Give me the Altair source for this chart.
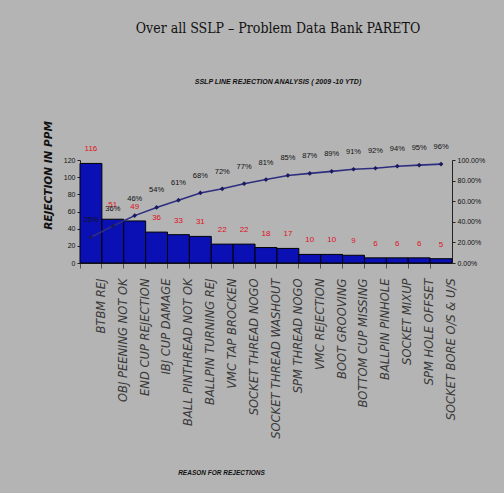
import altair as alt
import pandas as pd

categories = [
    "BTBM REJ", "OBJ PEENING NOT OK", "END CUP REJECTION", "IBJ CUP DAMAGE",
    "BALL PINTHREAD NOT OK", "BALLPIN TURNING REJ", "VMC TAP BROCKEN",
    "SOCKET THREAD NOGO", "SOCKET THREAD WASHOUT", "SPM THREAD NOGO",
    "VMC REJECTION", "BOOT GROOVING", "BOTTOM CUP MISSING", "BALLPIN PINHOLE",
    "SOCKET MIXUP", "SPM HOLE OFFSET", "SOCKET BORE O/S & U/S",
]
ppm = [116, 51, 49, 36, 33, 31, 22, 22, 18, 17, 10, 10, 9, 6, 6, 6, 5]
cum_pct = [0.25, 0.36, 0.46, 0.54, 0.61, 0.68, 0.72, 0.77, 0.81, 0.85,
           0.87, 0.89, 0.91, 0.92, 0.94, 0.95, 0.96]
ppm_ticks = [0, 20, 40, 60, 80, 100, 120]
pct_ticks = [0, 0.2, 0.4, 0.6, 0.8, 1.0]

df = pd.DataFrame({"reason": categories, "ppm": ppm, "cum": cum_pct})

BG = "#b4b4b4"
NARROW = "Liberation Sans Narrow, Liberation Sans"
x = alt.X(
    "reason:N", sort=categories, title="REASON FOR REJECTIONS",
    scale=alt.Scale(paddingInner=0, paddingOuter=0),
    axis=alt.Axis(
        bandPosition=0, labelOffset=10.9, labelAngle=270, labelAlign="right",
        labelBaseline="middle", labelPadding=10, labelFont="DejaVu Sans",
        labelFontStyle="italic", labelFontSize=11.5, labelColor="#3a3a3a",
        labelLimit=300, labelOverlap=False, tickSize=5, tickColor="#555555",
        domainColor="#222222",
        titleFont=NARROW, titleFontStyle="italic", titleFontWeight="bold",
        titleFontSize=6.5, titleX=141, titleY=209, titleColor="#111111",
        titleAlign="center", titleBaseline="middle",
    ),
)

yl = alt.Y(
    "ppm:Q", title="REJECTION IN PPM",
    scale=alt.Scale(domain=[0, 120], nice=False),
    axis=alt.Axis(
        values=ppm_ticks, grid=False, orient="left",
        labelFont=NARROW, labelFontSize=7, labelOverlap=False, labelFlush=False,
        labelColor="#111111", tickSize=3, domainColor="#222222", tickColor="#222222",
        titleFont="DejaVu Sans", titleFontWeight="bold", titleFontStyle="italic",
        titleFontSize=10.5, titleAngle=270, titleX=-32, titleY=15,
        titleAlign="center", titleBaseline="middle", titleColor="#111111",
    ),
)

yr = alt.Y(
    "cum:Q", title=None,
    scale=alt.Scale(domain=[0, 1.0], nice=False),
    axis=alt.Axis(
        values=pct_ticks, format=".2%", orient="right",
        grid=False, labelFont=NARROW, labelOverlap=False, labelFlush=False,
        labelFontSize=7, labelColor="#111111", tickSize=3,
        domainColor="#222222", tickColor="#222222",
    ),
)

bars = alt.Chart(df).mark_bar(color="#0a10b4", stroke="#000000", strokeWidth=1).encode(x=x, y=yl)
bar_lbl = alt.Chart(df).mark_text(
    color="#e01020", fontSize=8, dy=-14, baseline="middle", font=NARROW,
).encode(x=x, y=yl, text="ppm:Q")

line = alt.Chart(df).mark_line(color="#2e2e80", strokeWidth=1.6).encode(x=x, y=yr)
pts = alt.Chart(df).mark_point(shape="diamond", filled=True, size=22, color="#1a1a60", opacity=1).encode(x=x, y=yr)
cum_lbl = alt.Chart(df).mark_text(
    color="#111111", fontSize=7.5, dy=-17, baseline="middle", font=NARROW,
).encode(x=x, y=yr, text=alt.Text("cum:Q", format=".0%"))

left = alt.layer(bars, bar_lbl)
right = alt.layer(line, pts, cum_lbl)

chart = alt.layer(left, right).resolve_scale(y="independent").properties(
    width=372, height=103,
    background=BG,
    padding={"left": 80, "top": 160, "right": 52, "bottom": 230},
    autosize=alt.AutoSizeParams(type="none"),
    title=alt.TitleParams(
        text="Over all SSLP – Problem Data Bank PARETO",
        subtitle="SSLP LINE REJECTION ANALYSIS ( 2009 -10 YTD)",
        font="DejaVu Serif Condensed, Liberation Serif", fontSize=14, fontWeight="normal",
        color="#111111",
        subtitleFont=NARROW, subtitleFontSize=7,
        subtitleFontWeight="bold", subtitleFontStyle="italic", subtitleColor="#111111",
        subtitlePadding=42, anchor="middle", dx=12, offset=36,
    ),
).configure_view(stroke=None).configure_axis(labelOverlap=False)

chart.save("out.html", embed_options={"renderer": "svg", "actions": False})
